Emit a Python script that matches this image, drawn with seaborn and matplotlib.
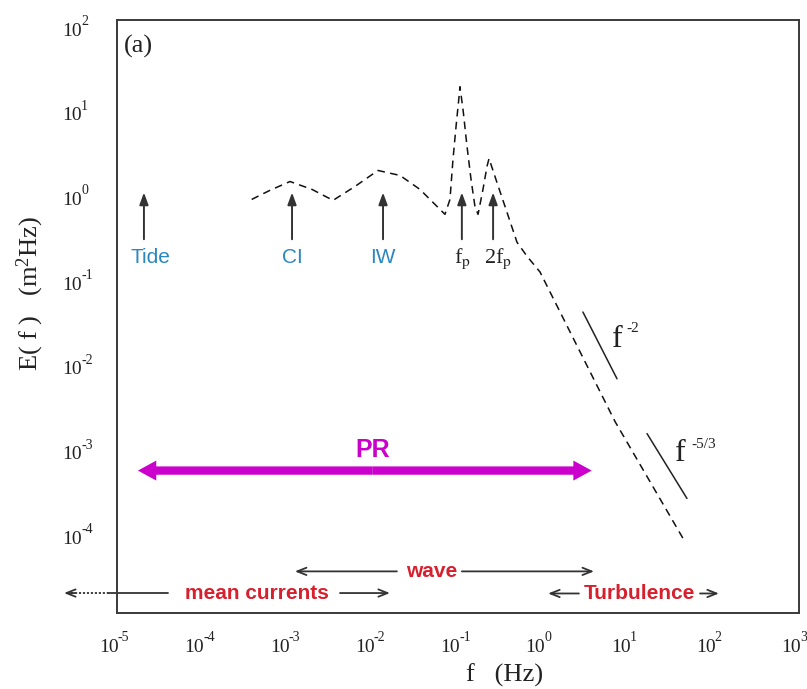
import numpy as np
import pandas as pd
import matplotlib
matplotlib.use("Agg")
import matplotlib.pyplot as plt
import seaborn as sns
from matplotlib.patches import FancyArrowPatch

# ---------------- data ----------------
spec_f = [3.8e-4, 6.24e-4, 1.07e-3, 1.94e-3, 3.42e-3, 6.19e-3, 1.15e-2, 2.09e-2,
          3.58e-2, 7.03e-2, 8.05e-2, 8.73e-2, 9.48e-2, 0.1028, 0.1054, 0.1146,
          0.1276, 0.1422, 0.158, 0.1718, 0.1963, 0.2188, 0.2312, 0.2864, 0.3758,
          0.492, 0.644, 0.916, 6.95, 43.6]
spec_E = [0.762, 0.977, 1.24, 1.0, 0.743, 1.084, 1.675, 1.462,
          1.0, 0.508, 0.762, 2.254, 5.51, 12.4, 16.3, 8.73,
          3.21, 1.312, 0.631, 0.508, 1.0, 1.866, 2.317, 1.208, 0.536,
          0.238, 0.163, 0.106, 1.82e-3, 7.6e-5]

slope2_f = [2.92, 7.33]
slope2_E = [0.0357, 5.82e-3]
slope53_f = [16.5, 48.5]
slope53_E = [1.31e-3, 2.25e-4]

peak_labels = ["Tide", "CI", "IW", "f$_{\\rm p}$", "2f$_{\\rm p}$"]
peak_f = [2.07e-5, 1.13e-3, 1.32e-2, 0.111, 0.258]
peak_text_f = [2.44e-5, 1.15e-3, 1.32e-2, 0.113, 0.294]
peak_colors = ["#2a87c0", "#2a87c0", "#2a87c0", "#222222", "#222222"]
peak_sans = [True, True, True, False, False]

xticks = [1e-5, 1e-4, 1e-3, 1e-2, 1e-1, 1e0, 1e1, 1e2, 1e3]
yticks = [1e-4, 1e-3, 1e-2, 1e-1, 1e0, 1e1, 1e2]
xtick_exps = ["-5", "-4", "-3", "-2", "-1", "0", "1", "2", "3"]
ytick_exps = ["-4", "-3", "-2", "-1", "0", "1", "2"]

# ---------------- style ----------------
sns.set_theme(style="white")
plt.rcParams["font.family"] = ["Liberation Serif", "DejaVu Serif"]
plt.rcParams["mathtext.fontset"] = "stix"
plt.rcParams["mathtext.default"] = "regular"

ink = "#222222"
fig = plt.figure(figsize=(8.07, 6.89), dpi=100)
ax = fig.add_axes([117 / 807, 1 - 613 / 689, 682 / 807, 593 / 689])
ax.set_xscale("log")
ax.set_yscale("log")

df = pd.DataFrame({"f": spec_f, "E": spec_E})
sns.lineplot(data=df, x="f", y="E", ax=ax, color="#111111", lw=1.1,
             linestyle=(0, (5, 3.5)), sort=False)
sns.lineplot(x=slope2_f, y=slope2_E, ax=ax, color=ink, lw=1.1, sort=False)
sns.lineplot(x=slope53_f, y=slope53_E, ax=ax, color=ink, lw=1.1, sort=False)

ax.set_xlim(1e-5, 1e3)
ax.set_ylim(1e-5, 1e2)
ax.set_xticks(xticks)
ax.set_yticks(yticks)
ax.minorticks_off()
ax.set_xlabel("")
ax.set_ylabel("")
for s in ax.spines.values():
    s.set_color("#3a3a3a")
    s.set_linewidth(1.4)
ax.tick_params(axis="both", direction="inout", length=8, width=1.2,
               color="#3a3a3a", labelbottom=False, labelleft=False)

# tick labels: "10" with a small raised exponent
for t, e in zip(xticks, xtick_exps):
    ax.annotate("10", xy=(t, 0), xycoords=("data", "axes fraction"),
                xytext=(2, -39), textcoords="offset pixels", ha="right",
                va="baseline", fontsize=14, color=ink, annotation_clip=False)
    ax.annotate(e, xy=(t, 0), xycoords=("data", "axes fraction"),
                xytext=(1, -28), textcoords="offset pixels", ha="left",
                va="baseline", fontsize=10, color=ink, annotation_clip=False)
for t, e in zip(yticks, ytick_exps):
    ax.annotate("10", xy=(0, t), xycoords=("axes fraction", "data"),
                xytext=(-35, -15.5), textcoords="offset pixels", ha="right",
                va="baseline", fontsize=14, color=ink, annotation_clip=False)
    ax.annotate(e, xy=(0, t), xycoords=("axes fraction", "data"),
                xytext=(-36, -5), textcoords="offset pixels", ha="left",
                va="baseline", fontsize=10, color=ink, annotation_clip=False)

# slope labels
for (xf, yE, sup, off) in [(6.4, 1.38e-2, "-2", (14, 15)),
                           (35.1, 6.2e-4, "-5/3", (16, 13))]:
    ax.text(xf, yE, "f", fontsize=23, color=ink, ha="left", va="baseline")
    ax.annotate(sup, xy=(xf, yE), xytext=off, textcoords="offset pixels",
                fontsize=11, color=ink, ha="left", va="baseline")

# peak arrows and labels
for lab, xf, xt, col, sans in zip(peak_labels, peak_f, peak_text_f, peak_colors, peak_sans):
    ax.annotate("", xy=(xf, 0.92), xytext=(xf, 0.258),
                arrowprops=dict(arrowstyle="-|>,head_length=0.6,head_width=0.22",
                                color="#333333", lw=1.4, mutation_scale=12,
                                shrinkA=0, shrinkB=0))
    if sans:
        ax.text(xt, 0.135, lab, fontsize=15, color=col, ha="center",
                va="baseline", family="Liberation Sans")
    else:
        ax.text(xt, 0.135, lab, fontsize=16, color=col, ha="center", va="baseline")

# PR double arrow
pr_y = 4.8e-4
pr_mid = 0.01
for end in (1.76e-5, 3.7):
    ax.add_patch(FancyArrowPatch((pr_mid, pr_y), (end, pr_y),
                                 arrowstyle="simple,head_length=1.1,head_width=1.2,tail_width=0.5",
                                 mutation_scale=12, color="#cc00cc", lw=0,
                                 shrinkA=0, shrinkB=0))
ax.text(pr_mid, 8.3e-4, "PR", fontsize=18, fontweight="bold", color="#cc00cc",
        ha="center", va="center", family="Liberation Sans")

red = "#d7202e"
dark = "#333333"
open_arrow = dict(arrowstyle="->,head_length=0.55,head_width=0.22", color=dark,
                  lw=1.3, mutation_scale=12, shrinkA=0, shrinkB=0)

# wave
wy = 3.1e-5
ax.annotate("", xy=(1.22e-3, wy), xytext=(1.92e-2, wy), arrowprops=open_arrow)
ax.text(4.95e-2, wy, "wave", fontsize=15, fontweight="bold", color=red,
        ha="center", va="center", family="Liberation Sans")
ax.annotate("", xy=(3.94, wy), xytext=(0.111, wy), arrowprops=open_arrow)

# mean currents
my = 1.72e-5
ax.plot([2.9e-6, 7.8e-6], [my, my], color=dark, lw=1.3, ls=(0, (1.2, 1.0)),
        clip_on=False)
ax.annotate("", xy=(2.39e-6, my), xytext=(3.2e-6, my), arrowprops=open_arrow,
            annotation_clip=False)
ax.plot([7.8e-6, 3.96e-5], [my, my], color=dark, lw=1.3, clip_on=False)
ax.text(4.39e-4, my, "mean currents", fontsize=15, fontweight="bold", color=red,
        ha="center", va="center", family="Liberation Sans")
ax.annotate("", xy=(1.59e-2, my), xytext=(4.13e-3, my), arrowprops=open_arrow)

# turbulence
ty = 1.70e-5
ax.annotate("", xy=(1.14, ty), xytext=(2.62, ty), arrowprops=open_arrow)
ax.text(13.3, ty, "Turbulence", fontsize=15, fontweight="bold", color=red,
        ha="center", va="center", family="Liberation Sans")
ax.annotate("", xy=(115, ty), xytext=(69, ty), arrowprops=open_arrow)

# panel label
ax.text(0.01, 0.975, "(a)", transform=ax.transAxes, fontsize=19, color=ink,
        ha="left", va="top")

# axis labels
fig.text(0.037, 1 - 293 / 689, "E( f )   (m$^{2}$Hz)", rotation=90, fontsize=19,
         color=ink, ha="center", va="center")
fig.text(505 / 807, 1 - 675 / 689, "f   (Hz)", fontsize=19, color=ink,
         ha="center", va="center")

fig.savefig("out.png", dpi=100)
